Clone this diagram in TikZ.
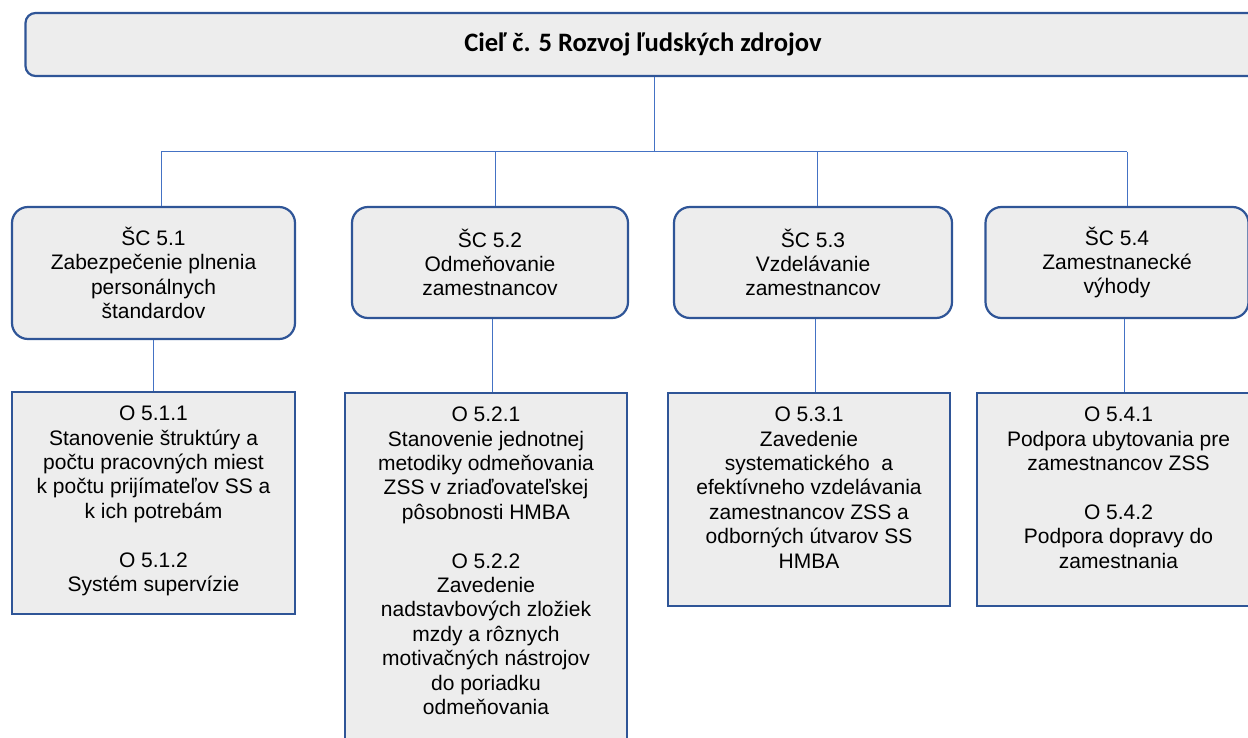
\documentclass[tikz,border=0pt]{standalone}
\usepackage{fontspec}
\setmainfont{Liberation Sans}
\newfontfamily\titlefont{Carlito}
\usetikzlibrary{positioning}
\definecolor{boxblue}{HTML}{2F5597}
\definecolor{linkblue}{HTML}{4472C4}
\definecolor{boxgray}{HTML}{EDEDED}

\begin{document}
\begin{tikzpicture}[x=1pt,y=1pt]
\tikzstyle{every node}+=[inner sep=0pt]
\tikzstyle{cielbox}=[draw=boxblue,fill=boxgray,line width=2.2pt,rounded corners=10pt,minimum width=1235,minimum height=63]
\tikzstyle{scbox}=[draw=boxblue,fill=boxgray,line width=2.2pt,rounded corners=16pt,align=center,font=\fontsize{21}{24.4}\selectfont]
\tikzstyle{obox}=[draw=boxblue,fill=boxgray,line width=2.2pt]
\tikzstyle{otext}=[align=center,font=\fontsize{21}{24.4}\selectfont]
\tikzstyle{link}=[draw=linkblue,line width=1pt]
\useasboundingbox (0,0) rectangle (1248,-738);
\clip (0,0) rectangle (1248,-738);
% cieľ
\node[cielbox] (ciel) at (643,-44.5) {\titlefont\bfseries\fontsize{26.6}{30}\selectfont Cieľ č. 5 Rozvoj ľudských zdrojov};
% ŠC
\node[scbox,minimum width=283,minimum height=132] (sc1) at (153.5,-273) {ŠC 5.1\\Zabezpečenie plnenia\\personálnych\\štandardov};
\node[scbox,minimum width=276,minimum height=111] (sc2) at (490,-262.5) {ŠC 5.2\\Odmeňovanie\\zamestnancov};
\node[scbox,minimum width=278,minimum height=111] (sc3) at (813,-262.5) {ŠC 5.3\\Vzdelávanie\\zamestnancov};
\node[scbox,minimum width=263,minimum height=111] (sc4) at (1117,-262.5) {ŠC 5.4\\Zamestnanecké\\výhody};
% opatrenia
\node[obox,minimum width=283,minimum height=222] (o51) at (153.5,-503) {};
\node[otext,below=15 of o51.north] (t51) {O 5.1.1\\Stanovenie štruktúry a\\počtu pracovných miest\\k počtu prijímateľov SS a\\k ich potrebám\\[24.4pt]O 5.1.2\\Systém supervízie};
\node[obox,minimum width=282,minimum height=387] (o52) at (486,-586.5) {};
\node[otext,below=15 of o52.north] (t52) {O 5.2.1\\Stanovenie jednotnej\\metodiky odmeňovania\\ZSS v zriaďovateľskej\\pôsobnosti HMBA\\[24.4pt]O 5.2.2\\Zavedenie\\nadstavbových zložiek\\mzdy a rôznych\\motivačných nástrojov\\do poriadku\\odmeňovania};
\node[obox,minimum width=282,minimum height=213] (o53) at (809,-499.5) {};
\node[otext,below=15 of o53.north] (t53) {O 5.3.1\\Zavedenie\\systematického\ \ a\\efektívneho vzdelávania\\zamestnancov ZSS a\\odborných útvarov SS\\HMBA};
\node[obox,minimum width=283,minimum height=213] (o54) at (1118.5,-499.5) {};
\node[otext,below=15 of o54.north] (t54) {O 5.4.1\\Podpora ubytovania pre\\zamestnancov ZSS\\[24.4pt]O 5.4.2\\Podpora dopravy do\\zamestnania};
% spojnice
\coordinate (bus) at (654,-152);
\coordinate (b1) at (161,-152);
\coordinate (b2) at (495,-152);
\coordinate (b3) at (817,-152);
\coordinate (b4) at (1127,-152);
\draw[link] (ciel.south -| bus) -- (bus);
\draw[link] (b1) -- (b4);
\draw[link] (b1) -- (b1 |- sc1.north);
\draw[link] (b2) -- (b2 |- sc2.north);
\draw[link] (b3) -- (b3 |- sc3.north);
\draw[link] (b4) -- (b4 |- sc4.north);
\draw[link] (sc1.south) -- (o51.north);
\draw[link] ([xshift=2]sc2.south) -- ([xshift=2]sc2.south |- o52.north);
\draw[link] ([xshift=2]sc3.south) -- ([xshift=2]sc3.south |- o53.north);
\draw[link] ([xshift=7]sc4.south) -- ([xshift=7]sc4.south |- o54.north);
\end{tikzpicture}
\end{document}
